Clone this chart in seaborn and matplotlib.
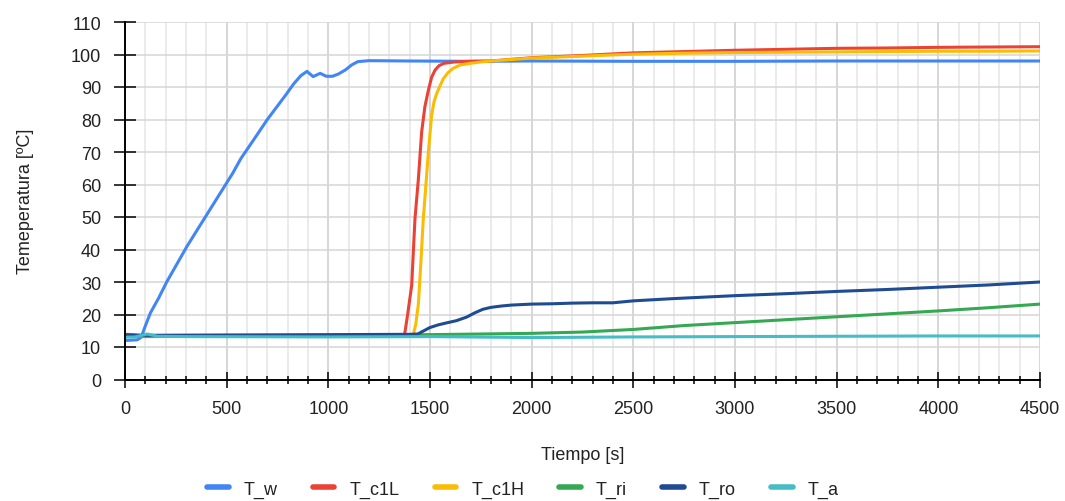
import numpy as np
import pandas as pd
import seaborn as sns
import matplotlib
matplotlib.use('Agg')
import matplotlib.pyplot as plt
from matplotlib.lines import Line2D
from matplotlib.ticker import MultipleLocator

# series y colores (orden de la leyenda)
series = ['T_w', 'T_c1L', 'T_c1H', 'T_ri', 'T_ro', 'T_a']
colores = ['#4285f4', '#ea4335', '#fbbc04', '#34a853', '#1f4b93', '#46bdc6']

# valores
t_w = [0, 60, 80, 100, 125, 165, 205, 255, 305, 370, 405, 445, 500, 530, 570, 630,
       700, 760, 790, 830, 865, 895, 925, 960, 990, 1020, 1050, 1085, 1115, 1145,
       1200, 1400, 1700, 2000, 2500, 3000, 3500, 4000, 4500]
T_w = [12.0, 12.2, 13.0, 16.5, 20.5, 25.0, 30.0, 35.5, 41.0, 47.5, 51.0, 55.0, 60.5,
       63.5, 68.0, 73.5, 80.0, 85.0, 87.5, 91.0, 93.5, 94.8, 93.2, 94.2, 93.3, 93.3,
       94.0, 95.3, 96.8, 97.8, 98.1, 98.0, 97.9, 98.0, 97.9, 97.9, 98.0, 98.0, 98.0]

t_c1L = [0, 100, 300, 800, 1200, 1375, 1390, 1410, 1426, 1443, 1459, 1475, 1492,
         1508, 1525, 1545, 1570, 1620, 1700, 1800, 2000, 2250, 2500, 2750, 3000,
         3250, 3500, 3750, 4000, 4250, 4500]
T_c1L = [13.8, 13.2, 13.3, 13.4, 13.6, 13.8, 20.0, 29.0, 49.4, 61.8, 76.2, 84.0, 89.0,
         93.0, 95.2, 96.6, 97.3, 97.7, 97.9, 98.0, 99.0, 99.7, 100.5, 100.9, 101.3,
         101.6, 101.9, 102.0, 102.2, 102.3, 102.4]

t_c1H = [0, 100, 1400, 1418, 1430, 1443, 1455, 1467, 1480, 1492, 1508, 1520, 1533,
         1550, 1566, 1590, 1615, 1650, 1700, 1750, 1800, 2000, 2250, 2500, 2750,
         3000, 3250, 3500, 3750, 4000, 4250, 4500]
T_c1H = [14.0, 13.3, 13.6, 13.8, 17.0, 23.3, 36.0, 49.4, 60.0, 70.0, 81.3, 85.5, 88.0,
         90.5, 92.6, 94.5, 95.8, 96.8, 97.3, 97.7, 98.0, 98.9, 99.5, 100.1, 100.4,
         100.6, 100.7, 100.8, 100.9, 101.0, 101.0, 101.1]

t_ri = [0, 100, 500, 1000, 1500, 1750, 2000, 2250, 2500, 2750, 3000, 3250, 3500,
        3750, 4000, 4250, 4500]
T_ri = [13.8, 13.3, 13.4, 13.6, 13.8, 14.0, 14.2, 14.6, 15.4, 16.6, 17.5, 18.4, 19.3,
        20.2, 21.1, 22.1, 23.2]

t_ro = [0, 100, 500, 1000, 1400, 1440, 1470, 1500, 1540, 1580, 1630, 1680, 1720,
        1760, 1800, 1850, 1900, 2000, 2100, 2200, 2300, 2400, 2500, 2700, 3000,
        3250, 3500, 3750, 4000, 4250, 4500]
T_ro = [13.8, 13.6, 13.7, 13.8, 13.9, 14.0, 15.0, 16.0, 16.8, 17.4, 18.1, 19.2, 20.5,
        21.6, 22.2, 22.6, 22.9, 23.2, 23.3, 23.5, 23.6, 23.6, 24.2, 24.9, 25.8,
        26.4, 27.1, 27.7, 28.4, 29.1, 30.0]

t_a = [0, 50, 110, 160, 300, 1000, 1500, 2000, 2500, 3000, 3500, 4000, 4500]
T_a = [13.0, 13.1, 14.0, 13.3, 13.2, 13.1, 13.2, 12.9, 13.1, 13.2, 13.3, 13.4, 13.4]

sns.set_theme(style='white')
plt.rcParams['font.family'] = ['Liberation Sans', 'DejaVu Sans']
fs = 13

frames = []
for nombre, t, T in zip(series, [t_w, t_c1L, t_c1H, t_ri, t_ro, t_a],
                        [T_w, T_c1L, T_c1H, T_ri, T_ro, T_a]):
    frames.append(pd.DataFrame({'t': t, 'T': T, 'serie': nombre}))
df = pd.concat(frames, ignore_index=True)

fig = plt.figure(figsize=(10.65, 5.02), dpi=100)
ax = fig.add_axes([125 / 1065, 1 - 380.5 / 502, 915 / 1065, 357.5 / 502])

sns.lineplot(data=df, x='t', y='T', hue='serie', hue_order=series, palette=colores,
             estimator=None, sort=False, linewidth=2.2, legend=False, ax=ax)

ax.set_xlim(0, 4500)
ax.set_ylim(0, 110)
ax.xaxis.set_major_locator(MultipleLocator(500))
ax.xaxis.set_minor_locator(MultipleLocator(100))
ax.yaxis.set_major_locator(MultipleLocator(10))

ax.set_axisbelow(True)
ax.grid(which='minor', axis='x', color='#e6e6e6', lw=1.1)
ax.grid(which='major', axis='x', color='#cccccc', lw=1.1)
ax.grid(which='major', axis='y', color='#d6d6d6', lw=1.1)

sns.despine(ax=ax)
for lado in ['left', 'bottom']:
    ax.spines[lado].set_color('black')
    ax.spines[lado].set_linewidth(1.4)

ax.tick_params(axis='y', which='major', direction='inout', length=15.6, width=1.1,
               pad=9.5, labelsize=fs, color='black', labelcolor='#222222', left=True)
ax.tick_params(axis='x', which='major', direction='inout', length=12, width=1.1,
               pad=8.5, labelsize=fs, color='black', labelcolor='#222222', bottom=True)
ax.tick_params(axis='x', which='minor', direction='inout', length=5.8, width=1.1,
               color='black', bottom=True)

ax.set_xlabel('Tiempo [s]', fontsize=fs, color='#222222')
ax.xaxis.set_label_coords(0.5, -0.186)
ax.set_ylabel('Temeperatura [ºC]', fontsize=fs, color='#222222')
ax.yaxis.set_label_coords(-0.1, 0.5)

handles = [Line2D([], [], color=c, lw=4) for c in colores]
fig.legend(handles, series, loc='center', bbox_to_anchor=(0.491, 0.024), ncol=6,
           frameon=False, fontsize=fs, handlelength=1.2, handletextpad=0.83,
           columnspacing=1.95, labelcolor='#222222')

fig.savefig('out.png', dpi=100)
